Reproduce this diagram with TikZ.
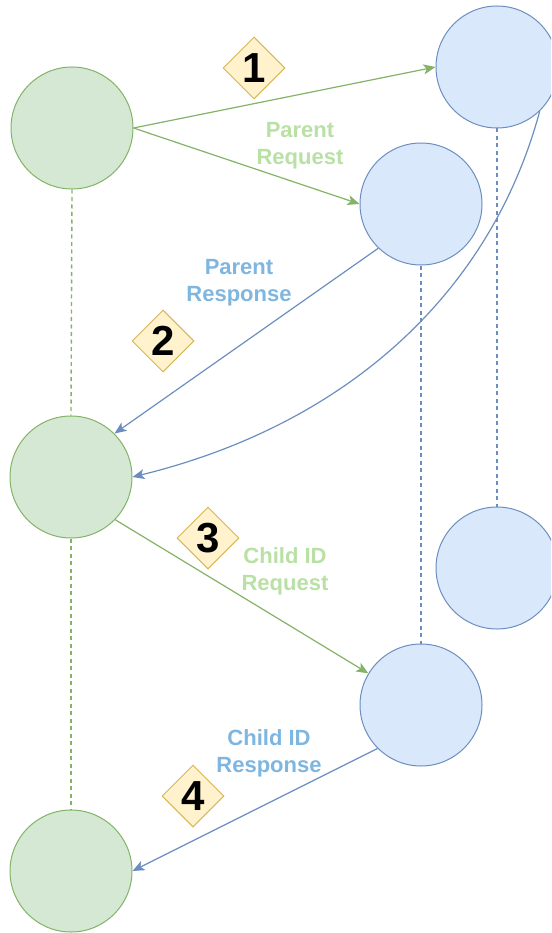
\documentclass[tikz,border=0pt]{standalone}
\usepackage{fontspec}
\setmainfont{Liberation Sans}
\usetikzlibrary{shapes.geometric,arrows.meta}
\definecolor{grnline}{HTML}{82B366}
\definecolor{grnfill}{HTML}{D5E8D4}
\definecolor{bluline}{HTML}{6C8EBF}
\definecolor{blufill}{HTML}{DAE8FC}
\definecolor{badgeline}{HTML}{D6B656}
\definecolor{badgefill}{HTML}{FFF2CC}
\definecolor{grntext}{HTML}{B9E0A5}
\definecolor{blutext}{HTML}{7EB6E0}
\begin{document}
\begin{tikzpicture}[x=1pt,y=-1pt,
  party/.style={circle, minimum size=122pt, inner sep=0pt, line width=1pt},
  client/.style={party, draw=grnline, fill=grnfill},
  server/.style={party, draw=bluline, fill=blufill},
  lifeline/.style={line width=1.4pt, dash pattern=on 4pt off 3.5pt},
  msg/.style={line width=1.2pt, -{Stealth[length=12pt,width=10pt,inset=3pt]}},
  badge/.style={diamond, aspect=1, minimum width=62pt, minimum height=62pt,
    inner sep=0pt, draw=badgeline, fill=badgefill, line width=1pt,
    font=\fontsize{42}{42}\selectfont\bfseries},
  caption/.style={align=center, inner sep=0pt,
    font=\fontsize{22}{27}\selectfont\bfseries}
]
\useasboundingbox (0,0) rectangle (551,933);
\clip (0,0) rectangle (551,933);

% participants
\node[client] (A) at (72,128) {};
\node[client] (C) at (71,477) {};
\node[client] (E) at (71,871) {};
\node[server] (T) at (497,67) {};
\node[server] (B) at (421,204) {};
\node[server] (R) at (497,568) {};
\node[server] (D) at (421,705) {};

% lifelines
\draw[lifeline, grnline] (A.south) -- (C.north);
\draw[lifeline, grnline] (C.south) -- (E.north);
\draw[lifeline, bluline] (B.south) -- (D.north);
\draw[lifeline, bluline] (T.south) -- (R.north);

% messages
\draw[msg, grnline] (A.0) -- (T.180);
\draw[msg, grnline] (A.0) -- (B.180);
\draw[msg, bluline] (B.226) -- (C.45);
\draw[msg, bluline] (T.314) .. controls (490,295) and (345,425) .. (C.0);
\draw[msg, grnline] (C.-44) -- (D.149);
\draw[msg, bluline] (D.225) -- (E.0);

% step badges
\node[badge] (s1) at (254,68) {1};
\node[badge] (s2) at (163,341) {2};
\node[badge] (s3) at (208,538) {3};
\node[badge] (s4) at (193,796) {4};

% message captions
\node[caption, text=grntext] (l1) at (300,146) {Parent\\Request};
\node[caption, text=blutext] (l2) at (239,283) {Parent\\Response};
\node[caption, text=grntext] (l3) at (285,571) {Child ID\\Request};
\node[caption, text=blutext] (l4) at (269,753) {Child ID\\Response};
\end{tikzpicture}
\end{document}
